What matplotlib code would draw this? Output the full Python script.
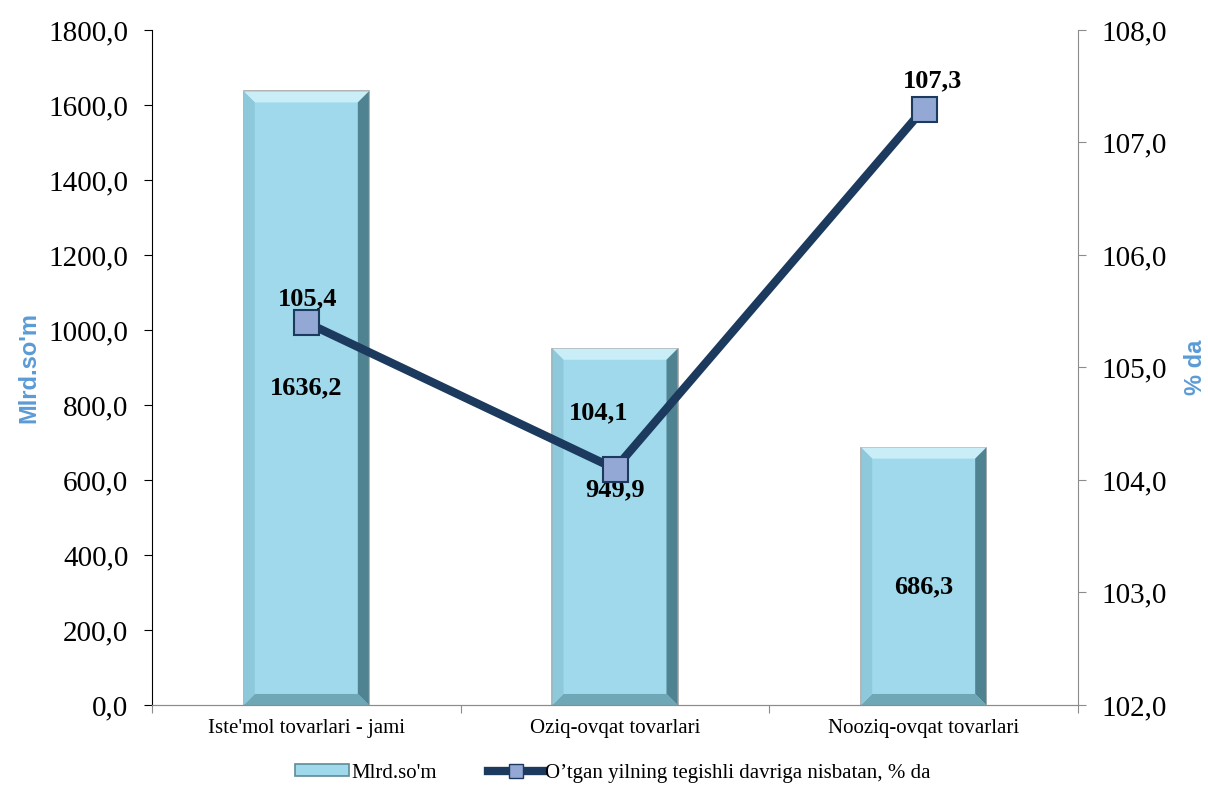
import matplotlib
matplotlib.use('agg')
import matplotlib.pyplot as plt
from matplotlib.patches import Polygon, Patch
from matplotlib.lines import Line2D
from matplotlib.ticker import FuncFormatter
from matplotlib.transforms import IdentityTransform

categories = ["Iste'mol tovarlari - jami", 'Oziq-ovqat tovarlari', 'Nooziq-ovqat tovarlari']
volume = [1636.2, 949.9, 686.3]
growth = [105.4, 104.1, 107.3]
# where the bar value labels sit, in left-axis units
volume_label_y = [845, 573, 315]
# offsets (points) of the growth labels from their markers
growth_label_offset = [(1, 17), (-12, 40), (6, 20)]

serif = 'Liberation Serif'
bar_face = '#9FD9EB'
line_color = '#1B3A5E'
marker_face = '#93A8D4'
label_blue = '#5B9BD5'

def comma(v):
    return ('%.1f' % v).replace('.', ',')

fig = plt.figure(figsize=(12.08, 7.89), dpi=100)
ax = fig.add_axes([0.1258, 0.1065, 0.7666, 0.8555])
ax2 = ax.twinx()

x = list(range(len(categories)))
bars = ax.bar(x, volume, width=0.405, color=bar_face, edgecolor='#A5A5A5', linewidth=1.2, zorder=2)
ax.set_xlim(-0.5, len(categories) - 0.5)
ax.set_ylim(0, 1800)
ax.set_yticks(range(0, 1801, 200))
ax.yaxis.set_major_formatter(FuncFormatter(lambda v, p: comma(v)))

ax2.set_ylim(102, 108)
ax2.set_yticks(range(102, 109))
ax2.yaxis.set_major_formatter(FuncFormatter(lambda v, p: comma(v)))

# bevel effect on the bars, computed from the bar geometry in display space
fig.canvas.draw()
bev = 11
for b in bars:
    (x0, y0), (x1, y1) = ax.transData.transform([(b.get_x(), 0), (b.get_x() + b.get_width(), b.get_height())])
    pieces = [
        ([(x0, y1), (x1, y1), (x1 - bev, y1 - bev), (x0 + bev, y1 - bev)], '#C9EEF8'),
        ([(x1, y1), (x1, y0), (x1 - bev, y0 + bev), (x1 - bev, y1 - bev)], '#4F8391'),
        ([(x0, y0), (x1, y0), (x1 - bev, y0 + bev), (x0 + bev, y0 + bev)], '#6FA7B6'),
        ([(x0, y0), (x0, y1), (x0 + bev, y1 - bev), (x0 + bev, y0 + bev)], '#8DC9DA'),
    ]
    for pts, col in pieces:
        ax.add_patch(Polygon(pts, closed=True, facecolor=col, edgecolor='none',
                             transform=IdentityTransform(), zorder=3))

ax2.plot(x, growth, color=line_color, linewidth=6, marker='s', markersize=18,
         markerfacecolor=marker_face, markeredgecolor=line_color, markeredgewidth=1.5, zorder=5)

for xi, ly, v in zip(x, volume_label_y, volume):
    ax.text(xi, ly, comma(v), ha='center', va='center',
            fontsize=19, fontweight='bold', family=serif, zorder=6)
for xi, g, off in zip(x, growth, growth_label_offset):
    ax2.annotate(comma(g), (xi, g), xytext=off, textcoords='offset points',
                 ha='center', va='center', fontsize=19, fontweight='bold', family=serif, zorder=6)

# axes styling
ax.set_xticks([i - 0.5 for i in range(len(categories) + 1)])
ax.set_xticklabels([])
ax.set_xticks(x, minor=True)
ax.set_xticklabels(categories, minor=True, family=serif, fontsize=15)
ax.tick_params(axis='x', which='major', length=6, color='#8C8C8C', direction='out')
ax.tick_params(axis='x', which='minor', length=0, pad=10)
ax.tick_params(axis='y', length=6, labelsize=21, pad=11)
ax2.tick_params(axis='y', length=6, labelsize=21, pad=11, color='#8C8C8C')
for lab in ax.get_yticklabels() + ax2.get_yticklabels():
    lab.set_family(serif)

for a in (ax, ax2):
    a.spines['top'].set_visible(False)
    a.spines['bottom'].set_color('#8C8C8C')
ax2.spines['left'].set_visible(False)
ax.spines['right'].set_visible(False)
ax2.spines['right'].set_color('#8C8C8C')
ax.spines['left'].set_color('black')

ax.set_ylabel("Mlrd.so'm", color=label_blue, fontsize=17, fontweight='bold', family='Liberation Sans', labelpad=6)
ax2.set_ylabel('% da', color=label_blue, fontsize=17, fontweight='bold', family='Liberation Sans',
               rotation=90, labelpad=12)

handles = [Patch(facecolor=bar_face, edgecolor='#5E8C99', linewidth=1.2),
           Line2D([0], [0], color=line_color, linewidth=6, marker='s', markersize=10,
                  markerfacecolor=marker_face, markeredgecolor=line_color)]
fig.legend(handles, ["Mlrd.so'm", "O’tgan yilning tegishli davriga nisbatan, % da"],
           loc='center', bbox_to_anchor=(0.507, 0.02), ncol=2, frameon=False,
           prop={'family': serif, 'size': 15}, handlelength=2.6, handleheight=0.5,
           handletextpad=0.1, columnspacing=2.5)

fig.savefig('out.png', dpi=100)
